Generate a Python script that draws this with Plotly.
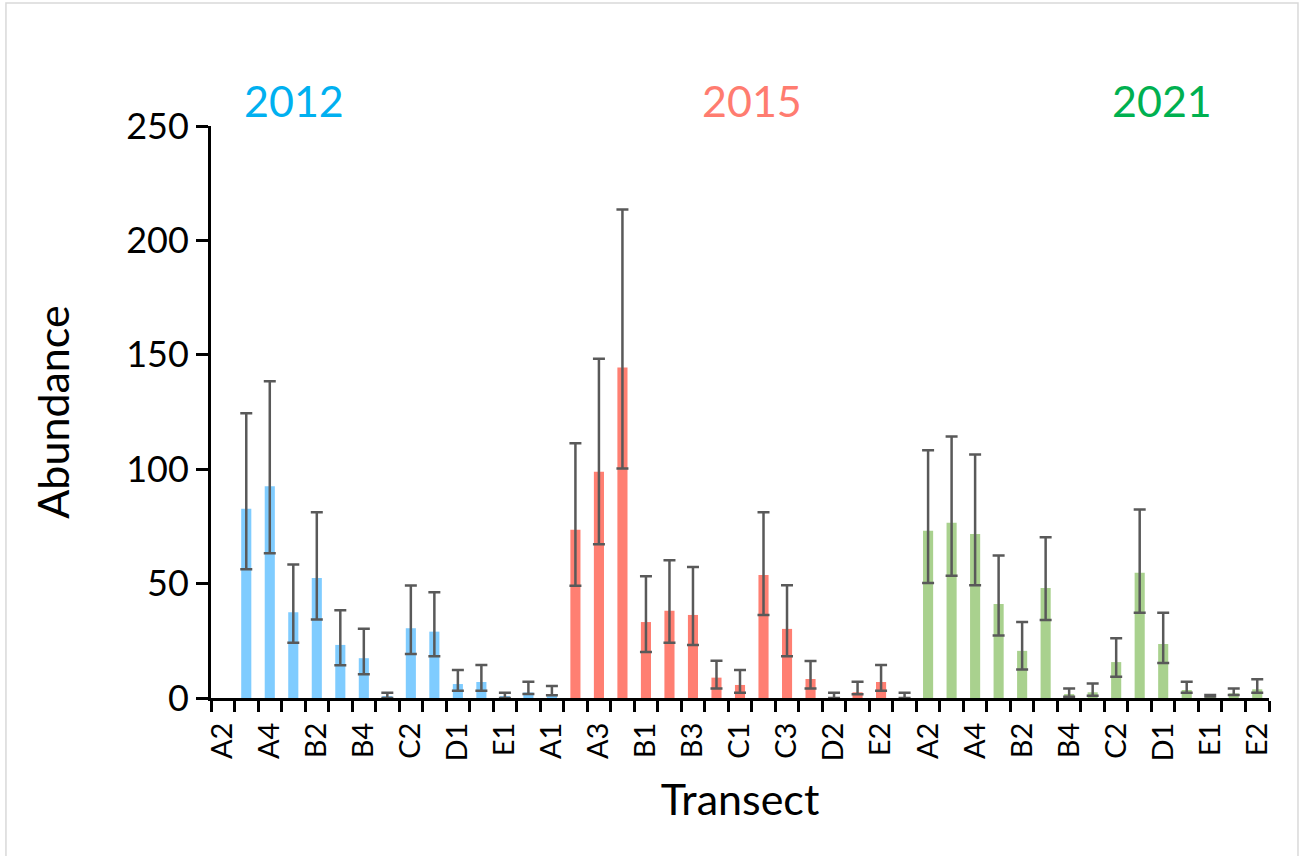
import plotly.graph_objects as go

# Transect labels printed under the axis (every second slot carries a label)
TICK_TEXT = ["A2", "A4", "B2", "B4", "C2", "D1", "E1",
             "A1", "A3", "B1", "B3", "C1", "C3", "D2", "E2",
             "A2", "A4", "B2", "B4", "C2", "D1", "E1", "E2"]

YEARS = ["2012", "2015", "2021"]
FIRST_SLOT = [1, 15, 30]          # first x slot used by each survey year

# Mean abundance per transect
abund_2012 = [82.7, 92.6, 37.5, 52.4, 23.2, 17.4, 0.5, 30.5, 29.0, 6.1, 7.0, 0.5, 2.4, 1.6]
abund_2015 = [73.5, 98.9, 144.4, 33.2, 38.1, 36.3, 8.9, 5.7, 53.8, 30.2, 8.3, 0.4, 2.5, 7.0, 0.4]
abund_2021 = [73.1, 76.6, 71.7, 41.1, 20.6, 48.1, 1.7, 2.5, 15.7, 54.7, 23.6, 3.5, 1.0, 2.0, 3.8]

# Upper / lower error-bar lengths
err_up_2012 = [41.7, 45.8, 20.8, 28.8, 15.2, 12.9, 1.8, 18.7, 17.2, 6.1, 7.4, 1.8, 4.7, 3.6]
err_dn_2012 = [26.4, 29.3, 13.3, 18.1, 8.9, 7.0, 0.5, 11.3, 10.8, 2.9, 3.8, 0.5, 0.7, 0.4]
err_up_2015 = [37.8, 49.4, 69.1, 20.0, 22.1, 21.0, 7.4, 6.5, 27.4, 19.1, 7.9, 1.9, 4.6, 7.4, 1.9]
err_dn_2015 = [24.4, 31.7, 44.1, 13.1, 14.0, 13.1, 4.7, 3.4, 17.5, 12.0, 4.1, 0.4, 0.9, 3.8, 0.4]
err_up_2021 = [35.2, 37.7, 34.7, 21.2, 12.6, 22.2, 2.5, 3.8, 10.4, 27.7, 13.7, 3.6, 0.3, 2.2, 4.4]
err_dn_2021 = [22.8, 23.2, 22.4, 13.8, 8.1, 14.0, 1.2, 1.5, 6.4, 17.4, 8.3, 1.2, 0.3, 0.7, 1.5]

BAR_COLORS = ["#7FCCFF", "#FF7F72", "#A9D18E"]
TEXT_COLORS = ["#00B0F0", "#FF7C70", "#00B050"]
FONT = "Lato, 'Open Sans', sans-serif"

series = [
    (abund_2012, err_up_2012, err_dn_2012),
    (abund_2015, err_up_2015, err_dn_2015),
    (abund_2021, err_up_2021, err_dn_2021),
]

fig = go.Figure()
for year, start, (vals, up, dn), col in zip(YEARS, FIRST_SLOT, series, BAR_COLORS):
    fig.add_trace(go.Bar(
        name=year,
        x=[start + i for i in range(len(vals))],
        y=vals,
        width=0.43,
        marker=dict(color=col, line=dict(width=0)),
        error_y=dict(type="data", symmetric=False, array=up, arrayminus=dn,
                     color="#595959", thickness=2.5, width=6),
    ))

n_slots = sum(len(s[0]) for s in series) + FIRST_SLOT[0]

fig.update_xaxes(
    type="linear",
    range=[-0.5, n_slots - 0.5],
    tickmode="array",
    tickvals=list(range(0, n_slots, 2)),
    ticktext=TICK_TEXT,
    tickangle=-90,
    ticks="",
    ticklabelstandoff=10,
    tickfont=dict(family=FONT, size=29, color="black"),
    showline=True, linecolor="black", linewidth=3,
    showgrid=False, zeroline=False,
    minor=dict(tickmode="linear", tick0=-0.5, dtick=1, ticks="outside",
               ticklen=11, tickwidth=3, tickcolor="black", showgrid=False),
    title=dict(text="Transect", font=dict(family=FONT, size=43, color="black"),
               standoff=25),
)
fig.update_yaxes(
    range=[0, 250],
    tickmode="array",
    tickvals=[0, 50, 100, 150, 200, 250],
    ticks="outside", ticklen=12, tickwidth=3, tickcolor="black",
    tickfont=dict(family=FONT, size=36, color="black"),
    showline=True, linecolor="black", linewidth=3,
    showgrid=False, zeroline=False,
    title=dict(text="Abundance", font=dict(family=FONT, size=43, color="black"),
               standoff=44),
)

# Year headings above each group of bars
year_label_x = [3.05, 22.5, 39.95]
for year, xpos, col in zip(YEARS, year_label_x, TEXT_COLORS):
    fig.add_annotation(x=xpos, y=1.044, xref="x", yref="paper", text=year,
                       showarrow=False, font=dict(family=FONT, size=43, color=col),
                       xanchor="center", yanchor="middle")

# Thin grey frame around the chart
fig.add_shape(type="rect", xref="paper", yref="paper",
              x0=-0.1938, x1=1.0274, y0=-0.29, y1=1.215,
              line=dict(color="#D9D9D9", width=1.5), fillcolor="rgba(0,0,0,0)",
              layer="below")

fig.update_layout(
    width=1300, height=856,
    margin=dict(l=211, r=31, t=126, b=158),
    plot_bgcolor="white", paper_bgcolor="white",
    showlegend=False,
    barmode="overlay",
)

fig.write_html("out.html")
